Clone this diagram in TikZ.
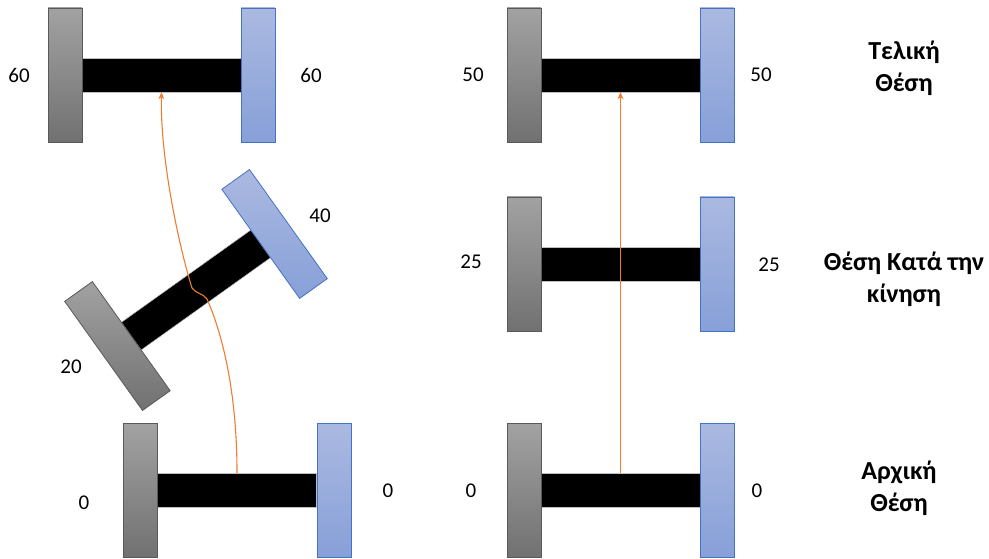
\documentclass[tikz,border=0pt]{standalone}
\usepackage{fontspec}
\setmainfont{Carlito}
\usetikzlibrary{arrows.meta}
\definecolor{wheelgrayA}{HTML}{A2A2A2}
\definecolor{wheelgrayB}{HTML}{717171}
\definecolor{wheelgrayE}{HTML}{595959}
\definecolor{wheelblueA}{HTML}{ABB9E1}
\definecolor{wheelblueB}{HTML}{87A0D8}
\definecolor{wheelblueE}{HTML}{4472C4}
\definecolor{pathorange}{HTML}{ED7D31}
\begin{document}
\begin{tikzpicture}[x=1pt,y=-1pt,
  graywheel/.style={rectangle, inner sep=0pt, minimum width=34pt, minimum height=134pt,
    top color=wheelgrayA, bottom color=wheelgrayB, draw=wheelgrayE, line width=0.8pt},
  bluewheel/.style={rectangle, inner sep=0pt, minimum width=34pt, minimum height=134pt,
    top color=wheelblueA, bottom color=wheelblueB, draw=wheelblueE, line width=0.8pt},
  axle/.style={rectangle, inner sep=0pt, minimum width=159pt, minimum height=34pt,
    fill=black, draw=black!25, line width=0.5pt},
  num/.style={font=\fontsize{21}{24}\selectfont, inner sep=0pt},
  caption/.style={font=\bfseries\fontsize{26}{32}\selectfont, align=center, inner sep=0pt},
  trace/.style={draw=pathorange, line width=1.1pt, -{Stealth[length=7pt,width=6pt]}}]
\useasboundingbox (0,0) rectangle (989,559);

% ---- left column: final position (60)
\node[axle] (La) at (161.5,75) {};
\node[graywheel] (Lg) at (65,75) {};
\node[bluewheel] (Lb) at (258,75) {};
\node[num] (Ln1) at (19,75) {60};
\node[num] (Ln2) at (311,75) {60};

% ---- left column: intermediate, tilted assembly
\begin{scope}[shift={(196,290)}, rotate=35.5, transform shape]
  \node[axle] (Ma) at (0,0) {};
  \node[graywheel] (Mg) at (-96.5,0) {};
  \node[bluewheel] (Mb) at (96.5,0) {};
\end{scope}
\node[num] (Mn1) at (71,367) {20};
\node[num] (Mn2) at (320,216) {40};

% ---- left column: start position (0)
\node[axle] (Sa) at (237,490) {};
\node[graywheel] (Sg) at (140,490) {};
\node[bluewheel] (Sb) at (334,490) {};
\node[num] (Sn1) at (84,503) {0};
\node[num] (Sn2) at (388,491) {0};

% ---- right column: final position (50)
\node[axle] (Ra) at (620.5,75) {};
\node[graywheel] (Rg) at (524,75) {};
\node[bluewheel] (Rb) at (717,75) {};
\node[num] (Rn1) at (473,75) {50};
\node[num] (Rn2) at (761,75) {50};

% ---- right column: intermediate position (25)
\node[axle] (Qa) at (620.5,264) {};
\node[graywheel] (Qg) at (524,264) {};
\node[bluewheel] (Qb) at (717,264) {};
\node[num] (Qn1) at (471,262) {25};
\node[num] (Qn2) at (769,265) {25};

% ---- right column: start position (0)
\node[axle] (Pa) at (620.5,490) {};
\node[graywheel] (Pg) at (524,490) {};
\node[bluewheel] (Pb) at (717,490) {};
\node[num] (Pn1) at (471,491) {0};
\node[num] (Pn2) at (757,491) {0};

% ---- stage captions
\node[caption] (T1) at (904,68) {Τελική\\Θέση};
\node[caption] (T2) at (904,279) {Θέση Κατά την\\κίνηση};
\node[caption] (T3) at (899,488) {Αρχική\\Θέση};

% ---- trajectories of the axle midpoint
\draw[trace] (Sa.north) .. controls (237,400) and (225,340) .. (207,299)
  .. controls (203,293) and (196,294) .. (192,288)
  .. controls (180,250) and (160,160) .. (La.south);
\draw[trace] (Pa.north) -- (Ra.south);
\end{tikzpicture}
\end{document}
